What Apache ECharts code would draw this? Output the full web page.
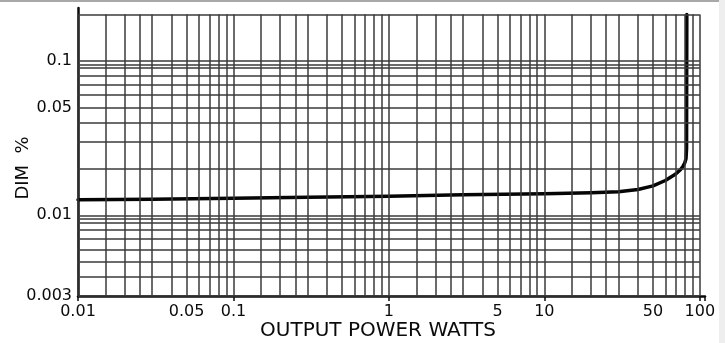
<!DOCTYPE html>
<html>
<head>
<meta charset="utf-8">
<script src="https://cdn.jsdelivr.net/npm/echarts@6/dist/echarts.min.js"></script>
<style>
  html, body { margin: 0; padding: 0; background: #fff; }
  #chart { width: 725px; height: 343px; }
</style>
</head>
<body>
<div id="chart"></div>
<script>
// output power (W) vs distortion (%)
const powerW = [0.01, 0.03, 0.1, 0.3, 1, 3, 10, 20, 30, 40, 50, 60, 70, 75, 78, 80, 81.5, 82.2, 82.5];
const dimPct = [0.0126, 0.0127, 0.0129, 0.0131, 0.0133, 0.0136, 0.0138, 0.0140, 0.0142, 0.0147, 0.0155, 0.0168, 0.0185, 0.0197, 0.0208, 0.0218, 0.0232, 0.027, 0.2];

// graph paper rulings
const xGrid = [
  0.01, 0.015, 0.02, 0.025, 0.03, 0.04, 0.05, 0.06, 0.07, 0.08, 0.09,
  0.1, 0.15, 0.2, 0.25, 0.3, 0.4, 0.5, 0.6, 0.7, 0.8, 0.9,
  1, 1.5, 2, 2.5, 3, 4, 5, 6, 7, 8, 9,
  10, 15, 20, 25, 30, 40, 50, 60, 70, 80, 90,
  100
];
const yGrid = [
  0.003, 0.004, 0.005, 0.006, 0.007, 0.008, 0.009, 0.0095,
  0.01, 0.02, 0.03, 0.04, 0.05, 0.06, 0.07, 0.08, 0.09, 0.095,
  0.1, 0.2
];

// tick labels
const xLabels = ['0.01', '0.05', '0.1', '1', '5', '10', '50', '100'];
const yLabels = ['0.1', '0.05', '0.01', '0.003'];

const xFirst = 0.01, xLast = 100;
const yFirst = 0.003, yLast = 0.2;

const font = '"DejaVu Sans", sans-serif';
const ink = '#0a0a0a';
const rule = { color: '#3a3a3a', width: 1.5, type: 'solid' };

const vLines = xGrid.map(v => {
  const lab = xLabels.find(s => Number(s) === v);
  return [
    { coord: [v, yFirst], name: lab || '', label: { show: !!lab, position: 'start', distance: 8 } },
    { coord: [v, yLast] }
  ];
});
const hLines = yGrid.map(v => {
  const lab = yLabels.find(s => Number(s) === v);
  return [
    { coord: [xFirst, v], name: lab || '', label: { show: !!lab, position: 'start', distance: 6 } },
    { coord: [xLast, v] }
  ];
});

const myChart = echarts.init(document.getElementById('chart'));
myChart.setOption({
  animation: false,
  backgroundColor: '#fff',
  grid: { left: 78, right: 20, top: 8, bottom: 47, containLabel: false, outerBoundsMode: 'none' },
  xAxis: {
    type: 'log',
    logBase: 10,
    min: 0.01,
    max: 108,
    axisLine: { lineStyle: { color: ink, width: 2.5 } },
    axisTick: { show: true, length: 5, lineStyle: { color: ink, width: 1.5 } },
    axisLabel: { show: false },
    splitLine: { show: false }
  },
  yAxis: {
    type: 'log',
    logBase: 10,
    min: 0.003,
    max: 0.22,
    axisLine: { show: true, lineStyle: { color: ink, width: 2.5 } },
    axisTick: { show: false },
    axisLabel: { show: false },
    splitLine: { show: false }
  },
  graphic: [
    { type: 'rect', shape: { x: 0, y: 0, width: 725, height: 2 }, style: { fill: '#a8a8a8' }, silent: true },
    { type: 'rect', shape: { x: 719, y: 0, width: 6, height: 343 }, style: { fill: '#eeeeee' }, silent: true },
    {
      type: 'text', x: 378, y: 331,
      style: { text: 'OUTPUT POWER WATTS', fill: ink, font: '20px ' + font, textAlign: 'center', textVerticalAlign: 'middle' }
    },
    {
      type: 'text', x: 23, y: 168, rotation: Math.PI / 2,
      style: { text: 'DIM  %', fill: ink, font: '18px ' + font, textAlign: 'center', textVerticalAlign: 'middle' }
    }
  ],
  series: [
    {
      name: 'paper',
      type: 'line',
      z: 1,
      data: [],
      silent: true,
      markLine: {
        silent: true,
        symbol: ['none', 'none'],
        lineStyle: rule,
        emphasis: { disabled: true },
        label: { show: false, formatter: '{b}', color: ink, fontFamily: font, fontSize: 16 },
        data: vLines.concat(hLines)
      }
    },
    {
      name: 'DIM',
      type: 'line',
      z: 3,
      data: powerW.map((p, i) => [p, dimPct[i]]),
      showSymbol: false,
      smooth: false,
      lineStyle: { color: '#050505', width: 3.5, cap: 'round', join: 'round' }
    }
  ]
});
</script>
</body>
</html>
